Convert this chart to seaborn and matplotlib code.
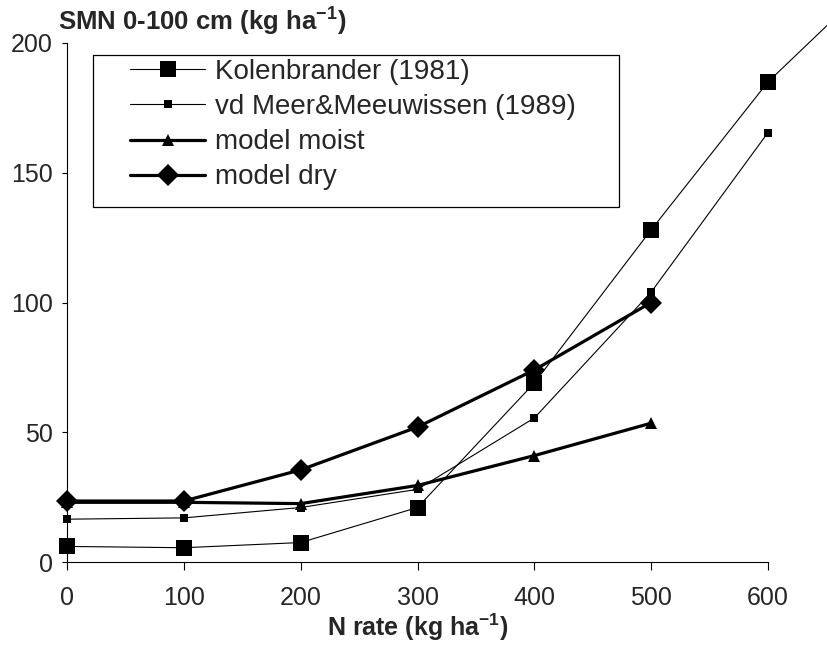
import matplotlib
matplotlib.use("Agg")
import matplotlib.pyplot as plt
import seaborn as sns

# ---- data ----
n_rate_kolen = [0, 100, 200, 300, 400, 500, 600, 700]
kolenbrander = [6, 5.5, 7.5, 21, 69, 128, 185, 228]

n_rate_meer = [0, 100, 200, 300, 400, 500, 600]
vd_meer = [16.5, 17, 21, 28, 55.5, 104, 165.5]

n_rate_model = [0, 100, 200, 300, 400, 500]
model_moist = [23, 23, 22.5, 29.5, 41, 53.5]
model_dry = [23.5, 23.5, 35.5, 52, 74, 100]

x_ticks = [0, 100, 200, 300, 400, 500, 600]
y_ticks = [0, 50, 100, 150, 200]

labels = ["Kolenbrander (1981)", "vd Meer&Meeuwissen (1989)", "model moist", "model dry"]

sns.set_style("white")
plt.rcParams["font.family"] = ["Liberation Sans", "DejaVu Sans"]
plt.rcParams["mathtext.fontset"] = "custom"
plt.rcParams["mathtext.rm"] = "Liberation Sans"
plt.rcParams["mathtext.bf"] = "Liberation Sans:bold"
plt.rcParams["mathtext.it"] = "Liberation Sans:italic"

fig = plt.figure(figsize=(8.27, 6.60), dpi=100)
ax = fig.add_axes([67 / 827, 1 - 562 / 660, (768 - 67) / 827, (562 - 43) / 660])

common = dict(color="black", clip_on=False, ax=ax, errorbar=None, markeredgewidth=0)

sns.lineplot(x=n_rate_kolen, y=kolenbrander, marker="s", markersize=11.5,
             linewidth=0.8, label=labels[0], **common)
sns.lineplot(x=n_rate_meer, y=vd_meer, marker="s", markersize=6,
             linewidth=0.8, label=labels[1], **common)
sns.lineplot(x=n_rate_model, y=model_moist, marker="^", markersize=9,
             linewidth=2.3, label=labels[2], **common)
sns.lineplot(x=n_rate_model, y=model_dry, marker="D", markersize=11,
             linewidth=2.3, label=labels[3], **common)

ax.set_xlim(0, 600)
ax.set_ylim(0, 200)
ax.set_xticks(x_ticks)
ax.set_yticks(y_ticks)
ax.set_xticklabels([str(v) for v in x_ticks])
ax.set_yticklabels([str(v) for v in y_ticks])

for side in ["top", "right"]:
    ax.spines[side].set_visible(False)
for side in ["left", "bottom"]:
    ax.spines[side].set_color("black")
    ax.spines[side].set_linewidth(0.8)

ax.tick_params(axis="x", direction="out", length=5.5, width=0.8, color="black",
               labelsize=18, pad=12, bottom=True)
ax.tick_params(axis="y", direction="out", length=3.6, width=0.8, color="black",
               labelsize=18, pad=6.5, left=True)

ax.set_xlabel(r"N rate (kg ha$^{\mathbf{-1}}$)", fontsize=18, fontweight="bold")
ax.xaxis.set_label_coords(0.5, -(612 - 562) / 519)
ax.set_ylabel("")

fig.text(58 / 827, 1 - 31 / 660, r"SMN 0-100 cm (kg ha$^{\mathbf{-1}}$)",
         fontsize=18.5, fontweight="bold", ha="left", va="baseline")

# legend frame (drawn inside the axes, below the legend)
rect = plt.Rectangle((93 / 827, 1 - 207 / 660), (619 - 93) / 827, (207 - 55) / 660,
                     transform=fig.transFigure, fill=True, facecolor="white",
                     edgecolor="black", linewidth=0.9, zorder=4, clip_on=False)
ax.add_patch(rect)

leg = ax.legend(loc="upper left", bbox_to_anchor=(130 / 827, 1 - 59 / 660),
                bbox_transform=fig.transFigure, frameon=False, borderpad=0,
                borderaxespad=0, handlelength=2.7, handletextpad=0.36,
                labelspacing=0.33, fontsize=20)
leg.set_zorder(6)

fig.savefig("out.png", dpi=100)
